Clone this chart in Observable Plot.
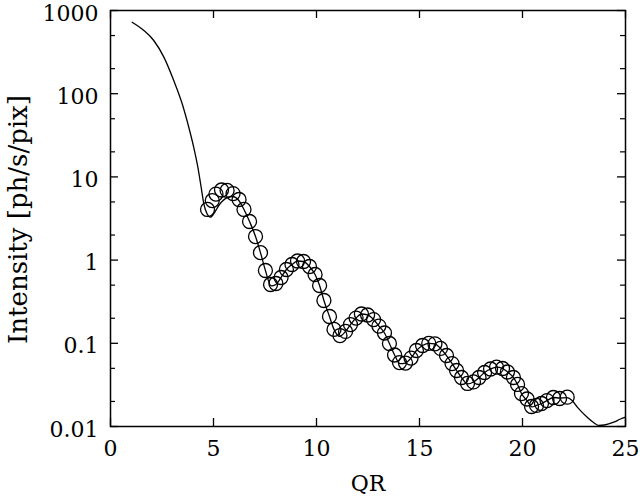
<!DOCTYPE html>
<html>
<head>
<meta charset="utf-8">
<script src="https://cdn.jsdelivr.net/npm/d3@7"></script>
<script src="https://cdn.jsdelivr.net/npm/@observablehq/plot@0.6"></script>
<style>
  html, body { margin: 0; padding: 0; background: #fff; }
  #chart { width: 640px; height: 499px; }
</style>
</head>
<body>
<div id="chart"></div>
<script>
// ---- data ----
const xTicks = [0, 5, 10, 15, 20, 25];
const yTicks = [0.01, 0.1, 1, 10, 100, 1000];
const yTickLabels = ["0.01", "0.1", "1", "10", "100", "1000"];
const yMinorTicks = [0.02, 0.05, 0.2, 0.5, 2, 5, 20, 50, 200, 500];

// measured points (circles)
const dataX = [4.71, 4.94, 5.12, 5.39, 5.66, 5.95, 6.24, 6.48, 6.75, 7.04,
  7.28, 7.52, 7.77, 8.03, 8.28, 8.54, 8.81, 9.08, 9.37, 9.66,
  9.93, 10.15, 10.36, 10.63, 10.85, 11.14, 11.41, 11.65, 11.92, 12.18,
  12.48, 12.77, 13.03, 13.30, 13.54, 13.79, 14.03, 14.32, 14.59, 14.85,
  15.15, 15.45, 15.75, 16.02, 16.31, 16.58, 16.80, 17.04, 17.33, 17.62,
  17.89, 18.16, 18.45, 18.74, 19.03, 19.27, 19.56, 19.76, 19.95, 20.22,
  20.44, 20.68, 20.92, 21.19, 21.50, 21.80, 22.17];
const dataY = [4.06, 5.20, 6.22, 6.96, 6.87, 6.31, 5.35, 4.06, 2.91, 1.92,
  1.23, 0.75, 0.509, 0.523, 0.618, 0.771, 0.885, 0.975, 0.962, 0.838,
  0.671, 0.495, 0.327, 0.210, 0.147, 0.124, 0.139, 0.168, 0.201, 0.225,
  0.219, 0.193, 0.161, 0.133, 0.0995, 0.0723, 0.0587, 0.0579, 0.0665, 0.0819,
  0.0941, 0.100, 0.0986, 0.0867, 0.0713, 0.0571, 0.0471, 0.0388, 0.0329, 0.0343,
  0.0388, 0.0446, 0.0491, 0.0516, 0.0498, 0.0452, 0.0388, 0.0320, 0.0249, 0.0214,
  0.0174, 0.0179, 0.0189, 0.0205, 0.0223, 0.0217, 0.0225];

// model curve (line)
const modelX = [1.05, 1.62, 2.10, 2.59, 3.07, 3.48, 3.80, 4.04, 4.24, 4.40,
  4.53, 4.66, 4.85, 5.05, 5.29, 5.67, 5.92, 6.21, 6.48, 6.75,
  7.04, 7.28, 7.52, 7.80, 8.03, 8.28, 8.54, 8.81, 9.08, 9.37,
  9.66, 9.93, 10.15, 10.36, 10.63, 10.85, 11.12, 11.41, 11.65, 11.92,
  12.18, 12.48, 12.77, 13.03, 13.30, 13.54, 13.79, 14.05, 14.32, 14.59,
  14.85, 15.15, 15.45, 15.75, 16.02, 16.31, 16.58, 16.80, 17.04, 17.33,
  17.62, 17.89, 18.16, 18.45, 18.74, 19.03, 19.27, 19.56, 19.76, 19.95,
  20.22, 20.46, 20.68, 20.92, 21.19, 21.50, 21.80, 22.17, 22.41, 22.66,
  23.14, 23.45, 23.70, 23.98, 24.43, 24.76, 25.0];
const modelY = [723, 575, 436, 275, 144, 75.7, 39.5, 22.7, 13.1, 7.52,
  4.75, 3.73, 3.28, 3.73, 4.66, 5.65, 5.81, 5.27, 4.06, 2.91,
  1.92, 1.23, 0.75, 0.49, 0.51, 0.618, 0.771, 0.885, 0.975, 0.962,
  0.838, 0.671, 0.495, 0.327, 0.210, 0.147, 0.121, 0.139, 0.168, 0.201,
  0.225, 0.219, 0.193, 0.161, 0.133, 0.0995, 0.0723, 0.0570, 0.0579, 0.0665,
  0.0819, 0.0941, 0.100, 0.0986, 0.0867, 0.0713, 0.0571, 0.0471, 0.0388, 0.0325,
  0.0343, 0.0388, 0.0446, 0.0491, 0.0516, 0.0498, 0.0452, 0.0388, 0.0320, 0.0249,
  0.0205, 0.0172, 0.0179, 0.0189, 0.0205, 0.0223, 0.0220, 0.0222, 0.0205, 0.0171,
  0.01294, 0.01117, 0.01028, 0.01042, 0.01127, 0.0123, 0.01294];

const dots = dataX.map((x, i) => ({x, y: dataY[i]}));
const model = modelX.map((x, i) => ({x, y: modelY[i]}));

const W = 640, H = 499, mL = 110, mR = 15, mT = 10, mB = 73;
const plotW = W - mL - mR, plotH = H - mT - mB;
const FONT = "DejaVu Serif";

const chart = Plot.plot({
  width: W,
  height: H,
  marginLeft: mL,
  marginRight: mR,
  marginTop: mT,
  marginBottom: mB,
  style: {fontFamily: FONT, fontSize: "22px", color: "black", background: "white"},
  x: {domain: [0, 25], axis: null},
  y: {type: "log", domain: [0.01, 1000], axis: null},
  marks: [
    Plot.line(model, {x: "x", y: "y", stroke: "black", strokeWidth: 1.3, curve: "monotone-x"}),
    Plot.dot(dots, {x: "x", y: "y", r: 7, stroke: "black", strokeWidth: 1.3, fill: "none"}),
    // inward ticks
    Plot.tickX(xTicks, {x: d => d, insetTop: plotH - 8, stroke: "black", strokeWidth: 1.3}),
    Plot.tickX(xTicks, {x: d => d, insetBottom: plotH - 8, stroke: "black", strokeWidth: 1.3}),
    Plot.tickY(yTicks, {y: d => d, insetRight: plotW - 8, stroke: "black", strokeWidth: 1.3}),
    Plot.tickY(yTicks, {y: d => d, insetLeft: plotW - 8, stroke: "black", strokeWidth: 1.3}),
    Plot.tickY(yMinorTicks, {y: d => d, insetRight: plotW - 5, stroke: "black", strokeWidth: 1.2}),
    Plot.tickY(yMinorTicks, {y: d => d, insetLeft: plotW - 5, stroke: "black", strokeWidth: 1.2}),
    Plot.frame({stroke: "black", strokeWidth: 1.5}),
    // tick labels
    Plot.axisX(xTicks, {anchor: "bottom", tickSize: 0, tickPadding: 14, fontSize: 22, fill: "black", label: null}),
    Plot.axisY(yTicks, {anchor: "left", tickSize: 0, tickPadding: 12, dy: 3, fontSize: 22, fill: "black",
      tickFormat: d => yTickLabels[yTicks.indexOf(d)], label: null}),
    // axis titles
    Plot.text(["QR"], {frameAnchor: "bottom", dy: 64, fontSize: 22, fill: "black", text: d => d}),
    Plot.text(["Intensity [ph/s/pix]"], {frameAnchor: "left", textAnchor: "middle", lineAnchor: "middle",
      dx: -92, dy: 1, rotate: -90, fontSize: 26, fill: "black", text: d => d})
  ]
});
document.getElementById("chart").appendChild(chart);
</script>
</body>
</html>
